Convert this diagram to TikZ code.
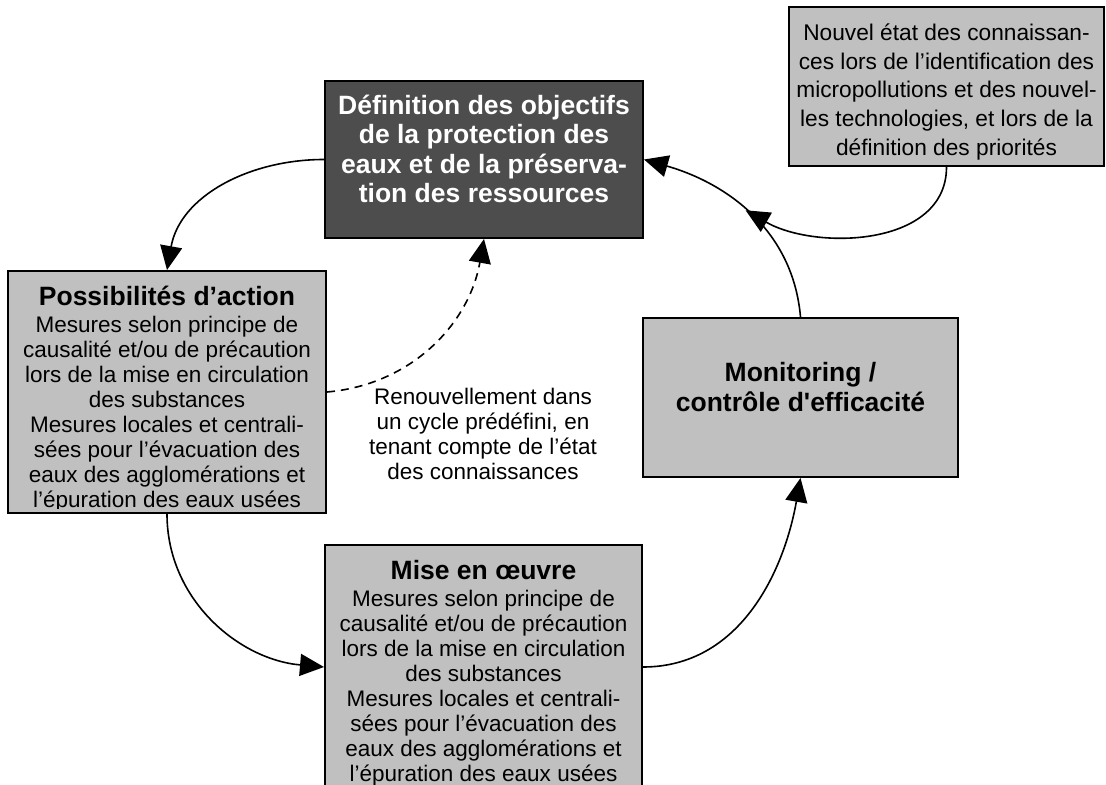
\documentclass[tikz,border=0pt]{standalone}
\usepackage{fontspec}
\setmainfont{Liberation Sans}
\usetikzlibrary{arrows.meta}
\definecolor{darkfill}{HTML}{4D4D4D}
\definecolor{lightfill}{HTML}{C0C0C0}
\newcommand{\bodysize}{\fontsize{11.25}{12.5}\selectfont}
\newcommand{\titlesize}{\bfseries\fontsize{13.25}{14.65}\selectfont}

\begin{document}
\begin{tikzpicture}[x=0.5pt, y=0.5pt,
  box/.style={draw=black, line width=1pt, fill=lightfill, inner sep=0pt},
  boxtext/.style={align=center, inner sep=0pt, font=\bodysize},
  flow/.style={line width=0.8pt, -{Triangle[length=12pt,width=11pt]}}]
  \clip (0,0) rectangle (1106,-785);

  \node[box, fill=darkfill, minimum width=159pt, minimum height=78.5pt] (def) at (484,-159.5) {};
  \node[box, minimum width=159pt, minimum height=121pt] (act) at (167,-392) {};
  \node[box, minimum width=158.5pt, minimum height=122pt] (mise) at (483.5,-667) {};
  \node[box, minimum width=157.5pt, minimum height=79.5pt] (mon) at (800.5,-397.5) {};
  \node[box, minimum width=157.5pt, minimum height=79.5pt] (nouv) at (946.5,-86.5) {};

  \node[boxtext, font=\titlesize, text=white] (deftext) at (484,-149)
    {Définition des objectifs\\de la protection des\\eaux et de la préserva-\\tion des ressources};
  \begin{scope}
    \clip (8,-271) rectangle (326,-508);
    \node[boxtext] (acttext) at (167,-399)
      {{\titlesize Possibilités d’action}\\[0.75pt]
       Mesures selon principe de\\causalité et/ou de précaution\\lors de la mise en circulation\\des substances\\
       Mesures locales et centrali-\\sées pour l’évacuation des\\eaux des agglomérations et\\l’épuration des eaux usées};
  \end{scope}
  \node[boxtext] (misetext) at (483.5,-673)
    {{\titlesize Mise en œuvre}\\[0.75pt]
     Mesures selon principe de\\causalité et/ou de précaution\\lors de la mise en circulation\\des substances\\
     Mesures locales et centrali-\\sées pour l’évacuation des\\eaux des agglomérations et\\l’épuration des eaux usées};
  \node[boxtext, font=\titlesize] (montext) at (800.5,-387)
    {Monitoring /\\contrôle d\textquotesingle efficacité};
  \node[boxtext, font=\fontsize{11.35}{14.4}\selectfont] (nouvtext) at (946.5,-92)
    {Nouvel état des connaissan-\\ces lors de l’identification des\\micropollutions et des nouvel-\\les technologies, et lors de la\\définition des priorités};
  \node[boxtext] (renew) at (483,-434.3)
    {Renouvellement dans\\un cycle prédéfini, en\\tenant compte de l’état\\des connaissances};

  \draw[flow] (def.west) to[out=180, in=80] (act.north);
  \draw[flow] (act.south) to[out=-90, in=175] (mise.west);
  \draw[flow] (mise.east) to[out=0, in=-100] (mon.south);
  \draw[flow] (mon.north) to[out=95, in=-16] coordinate[pos=0.53] (meet) (def.east);
  \draw[flow] (nouv.south) to[out=-90, in=-30] (meet);
  \draw[flow, dash pattern=on 4pt off 3pt] (act.east) to[out=5, in=-100] (def.south);
\end{tikzpicture}
\end{document}
